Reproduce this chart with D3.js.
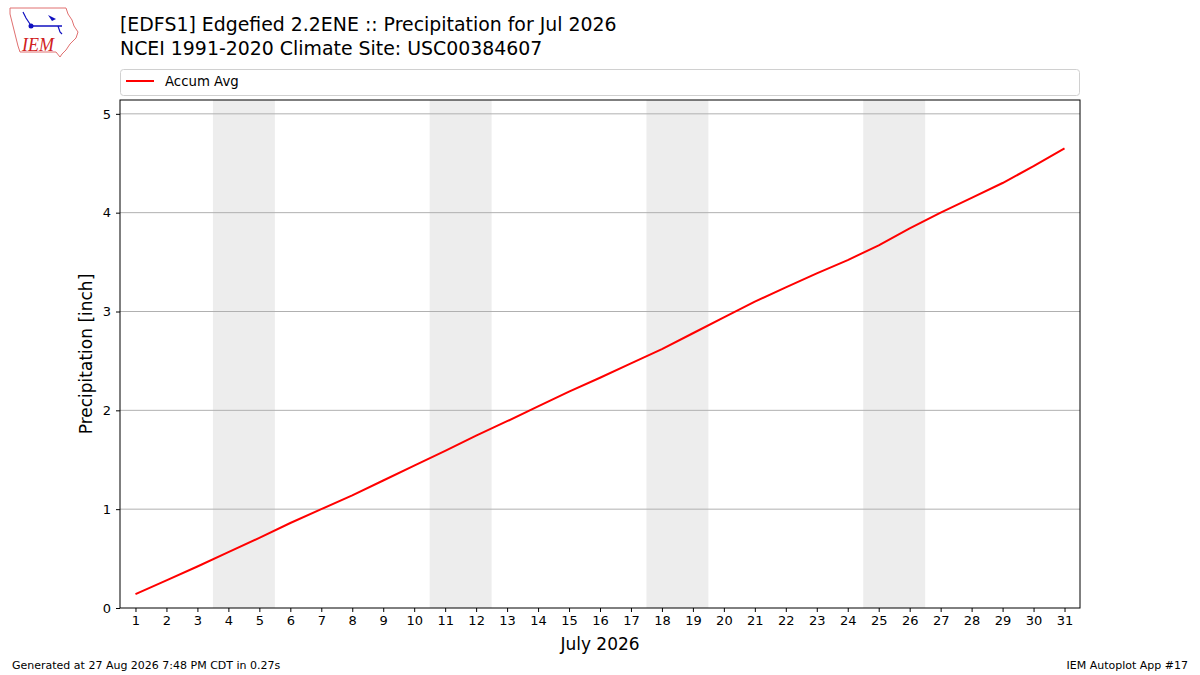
<!DOCTYPE html>
<html>
<head>
<meta charset="utf-8">
<script src="https://cdn.jsdelivr.net/npm/d3@7"></script>
<style>
  html, body { margin: 0; padding: 0; background: #fff; }
  svg { display: block; font-family: "DejaVu Sans", sans-serif; }
</style>
</head>
<body>
<svg id="chart" width="1200" height="675"></svg>
<script>
// ---- data ----
const days = d3.range(1, 32);
const accumAvg = [0.14, 0.28, 0.42, 0.565, 0.71, 0.86, 1.00, 1.14, 1.29, 1.44,
  1.59, 1.745, 1.89, 2.04, 2.19, 2.33, 2.475, 2.62, 2.78, 2.94,
  3.10, 3.245, 3.385, 3.52, 3.67, 3.84, 4.00, 4.15, 4.30, 4.47, 4.65];
const weekendStarts = [4, 11, 18, 25];
const yTicks = [0, 1, 2, 3, 4, 5];
const titleLines = ["[EDFS1] Edgefied 2.2ENE :: Precipitation for Jul 2026",
                    "NCEI 1991-2020 Climate Site: USC00384607"];
const seriesName = "Accum Avg";
const xLabel = "July 2026";
const yLabel = "Precipitation [inch]";
const footerLeft = "Generated at 27 Aug 2026 7:48 PM CDT in 0.27s";
const footerRight = "IEM Autoplot App #17";

// ---- layout ----
const svg = d3.select("#chart");
const L = 120, R = 1080, T = 100, B = 608;
const x = d3.scaleLinear().domain([0.5, 31.5]).range([L, R]);
const y = d3.scaleLinear().domain([0, 5.14]).range([B, T]);

// weekend shading
svg.append("g").selectAll("rect").data(weekendStarts).join("rect")
  .attr("x", d => x(d - 0.5)).attr("width", d => x(d + 1.5) - x(d - 0.5))
  .attr("y", T).attr("height", B - T).attr("fill", "#ededed");

// gridlines
svg.append("g").selectAll("line").data(yTicks.filter(d => d > 0)).join("line")
  .attr("x1", L).attr("x2", R).attr("y1", d => y(d)).attr("y2", d => y(d))
  .attr("stroke", "#b0b0b0").attr("stroke-width", 1);

// line
const line = d3.line().x((d, i) => x(days[i])).y(d => y(d));
svg.append("path").datum(accumAvg).attr("d", line)
  .attr("fill", "none").attr("stroke", "#ff0000").attr("stroke-width", 2)
  .attr("stroke-linejoin", "round");

// frame
svg.append("rect").attr("x", L).attr("y", T).attr("width", R - L).attr("height", B - T)
  .attr("fill", "none").attr("stroke", "#000").attr("stroke-width", 1);

// axes
const xAxis = d3.axisBottom(x).tickValues(days).tickFormat(d3.format("d")).tickSizeOuter(0).tickSize(4).tickPadding(4);
const gx = svg.append("g").attr("transform", `translate(0,${B})`).call(xAxis);
gx.select(".domain").remove();
gx.selectAll("text").attr("font-size", 13).attr("font-family", "DejaVu Sans").attr("fill", "#000");
const yAxis = d3.axisLeft(y).tickValues(yTicks).tickFormat(d3.format("d")).tickSizeOuter(0).tickSize(4).tickPadding(5);
const gy = svg.append("g").attr("transform", `translate(${L},0)`).call(yAxis);
gy.select(".domain").remove();
gy.selectAll("text").attr("font-size", 13).attr("font-family", "DejaVu Sans").attr("fill", "#000");

// axis labels
svg.append("text").attr("x", (L + R) / 2).attr("y", 650).attr("text-anchor", "middle")
  .attr("font-size", 17).text(xLabel);
svg.append("text").attr("transform", `translate(92,${(T + B) / 2}) rotate(-90)`)
  .attr("text-anchor", "middle").attr("font-size", 17).text(yLabel);

// title
svg.append("g").selectAll("text").data(titleLines).join("text")
  .attr("x", 120).attr("y", (d, i) => 31 + i * 24).attr("font-size", 18.9).text(d => d);

// legend
svg.append("rect").attr("x", 120.5).attr("y", 69.5).attr("width", 959).attr("height", 26)
  .attr("rx", 3).attr("fill", "#fff").attr("stroke", "#d0d0d0");
svg.append("line").attr("x1", 126).attr("x2", 154).attr("y1", 81).attr("y2", 81)
  .attr("stroke", "#ff0000").attr("stroke-width", 2);
svg.append("text").attr("x", 165).attr("y", 86).attr("font-size", 13.3).text(seriesName);

// footer
svg.append("text").attr("x", 12).attr("y", 669).attr("font-size", 11).text(footerLeft);
svg.append("text").attr("x", 1188).attr("y", 669).attr("font-size", 11).attr("text-anchor", "end").text(footerRight);

// logo (approximation)
const logo = svg.append("g");
logo.append("path")
  .attr("d", "M10,8 L66,8 L68,14 L72,20 L74,26 L78,32 L76,38 L70,44 L66,50 L62,54 L60,57 L56,52 L20,52 L18,46 L16,38 L14,30 L12,22 L10,14 Z")
  .attr("fill", "#fff").attr("stroke", "#e07070").attr("stroke-width", 1);
logo.append("line").attr("x1", 30).attr("x2", 62).attr("y1", 26).attr("y2", 26).attr("stroke", "#1010c0").attr("stroke-width", 1.5);
logo.append("circle").attr("cx", 31).attr("cy", 26).attr("r", 2.5).attr("fill", "#1010c0");
logo.append("path").attr("d", "M48,15 L56,19 L52,21 Z").attr("fill", "#1010c0");
logo.append("path").attr("d", "M23,12 L26,18 L30,24 M58,26 L60,32 L62,34").attr("stroke", "#1010c0").attr("fill", "none").attr("stroke-width", 1.2);
logo.append("text").attr("x", 22).attr("y", 51).attr("font-family", "Liberation Serif, serif")
  .attr("font-style", "italic").attr("font-size", 18).attr("fill", "#d02020").text("IEM");
</script>
</body>
</html>
